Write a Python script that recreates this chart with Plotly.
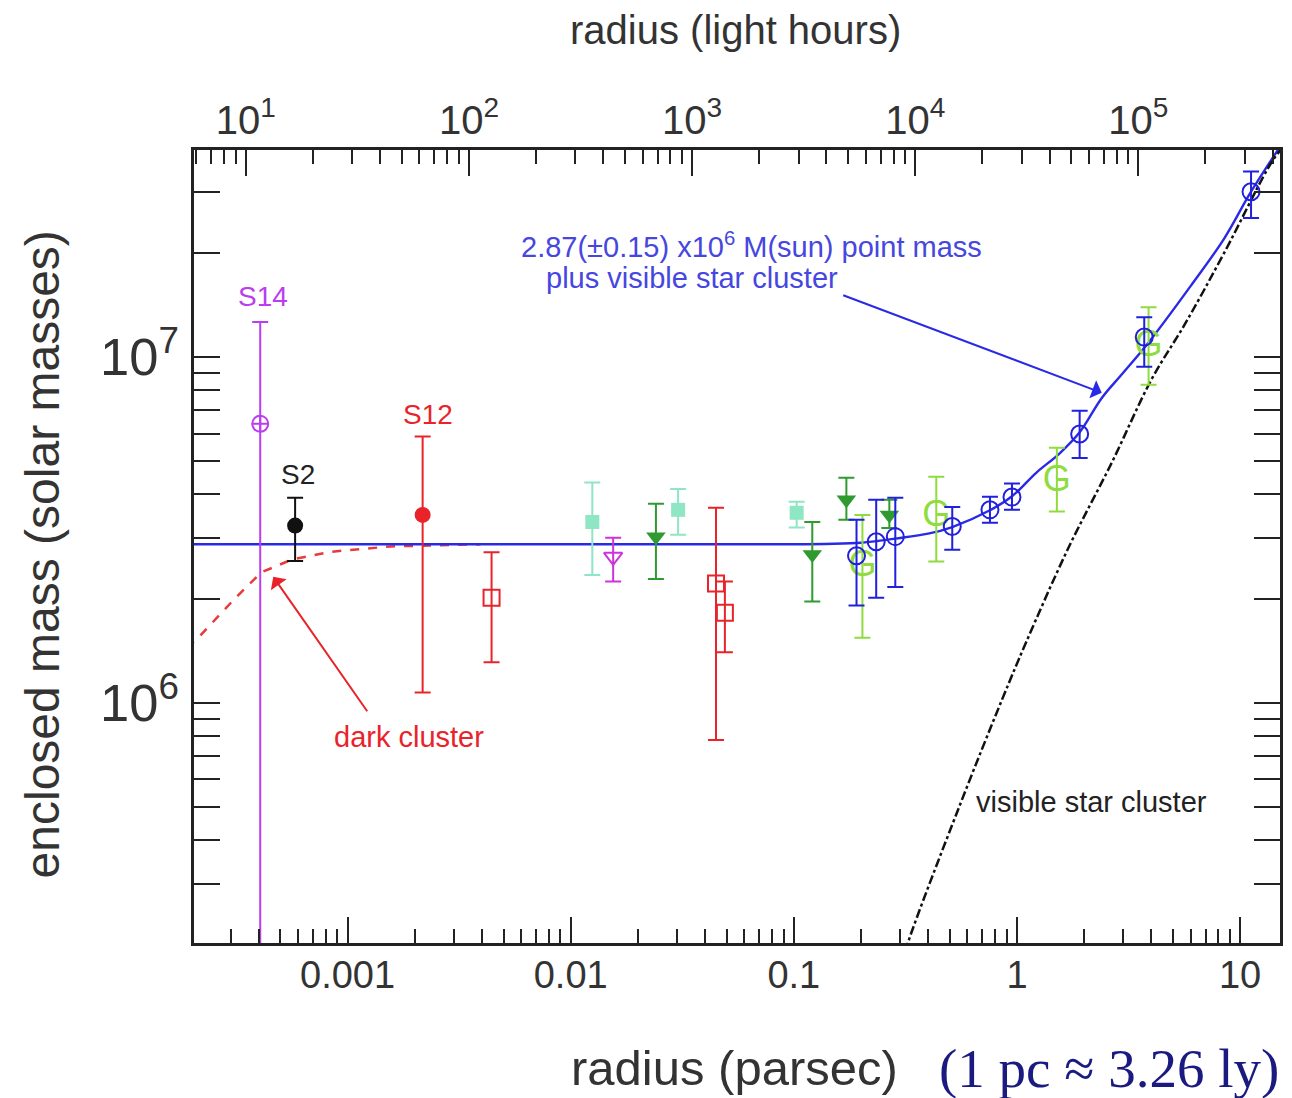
import math
import plotly.graph_objects as go

# ---------------- data (radius in parsec, enclosed mass in solar masses) ----------------
PC_TO_LIGHT_HOURS = 28577.0

# S14 (violet, open circle with cross)
s14_r = [4.06e-4]
s14_m = [6.4e6]
s14_hi = [1.26e7]
s14_lo = [1.0e4]

# S2 (black filled circle)
s2_r = [5.82e-4]
s2_m = [3.25e6]
s2_hi = [3.91e6]
s2_lo = [2.57e6]

# S12 (red filled circle)
s12_r = [2.17e-3]
s12_m = [3.49e6]
s12_hi = [5.88e6]
s12_lo = [1.07e6]

# red open squares
rsq_r = [4.42e-3, 0.0448, 0.0491]
rsq_m = [2.01e6, 2.21e6, 1.82e6]
rsq_hi = [2.72e6, 3.66e6, 2.24e6]
rsq_lo = [1.31e6, 7.8e5, 1.40e6]

# pale teal filled squares
tsq_r = [0.0125, 0.0303, 0.103]
tsq_m = [3.33e6, 3.61e6, 3.54e6]
tsq_hi = [4.33e6, 4.15e6, 3.81e6]
tsq_lo = [2.34e6, 3.06e6, 3.21e6]

# magenta open down-triangle
mtri_r = [0.0155]
mtri_m = [2.64e6]
mtri_hi = [3.0e6]
mtri_lo = [2.24e6]

# dark green filled down-triangles
gtri_r = [0.0241, 0.121, 0.172, 0.268]
gtri_m = [3.02e6, 2.68e6, 3.86e6, 3.49e6]
gtri_hi = [3.76e6, 3.33e6, 4.47e6, 3.86e6]
gtri_lo = [2.28e6, 1.96e6, 3.38e6, 3.2e6]

# light green "G" points
g_r = [0.203, 0.435, 1.51, 3.89]
g_m = [2.47e6, 3.45e6, 4.35e6, 1.07e7]
g_hi = [3.49e6, 4.5e6, 5.46e6, 1.39e7]
g_lo = [1.54e6, 2.56e6, 3.57e6, 8.3e6]

# blue open circles
b_r = [0.191, 0.234, 0.285, 0.513, 0.757, 0.95, 1.91, 3.72, 11.2]
b_m = [2.66e6, 2.92e6, 3.02e6, 3.23e6, 3.61e6, 3.93e6, 5.98e6, 1.14e7, 3.0e7]
b_hi = [3.38e6, 3.86e6, 3.91e6, 3.68e6, 3.94e6, 4.3e6, 6.98e6, 1.30e7, 3.43e7]
b_lo = [1.91e6, 2.01e6, 2.16e6, 2.77e6, 3.31e6, 3.61e6, 5.1e6, 9.35e6, 2.52e7]

# model: point mass + visible cluster (blue solid)
model_r = [1.0e-4, 0.1, 0.15, 0.2, 0.234, 0.285, 0.4, 0.513, 0.757, 0.95, 1.22, 1.55,
           1.91, 2.40, 3.0, 3.89, 6.0, 8.5, 11.2, 15.5]
model_m = [2.87e6, 2.87e6, 2.88e6, 2.9e6, 2.93e6, 2.98e6, 3.08e6, 3.22e6, 3.6e6, 3.95e6, 4.62e6, 5.25e6,
           6.05e6, 7.6e6, 9.0e6, 1.1e7, 1.6e7, 2.2e7, 3.0e7, 4.15e7]

# visible star cluster (black dash-dot)
clu_r = [0.30, 0.326, 0.551, 0.857, 1.097, 1.7, 2.66, 4.01, 5.69, 8.5, 14.07, 16.0]
clu_m = [1.7e5, 2.04e5, 5.0e5, 1.02e6, 1.49e6, 2.8e6, 4.94e6, 8.6e6, 1.25e7, 2.0e7, 3.71e7, 4.1e7]

# dark cluster (red dashed)
dark_r = [1.9e-4, 2.1e-4, 3.1e-4, 4.1e-4, 5.6e-4, 8.4e-4, 1.56e-3, 3.94e-3]
dark_m = [1.45e6, 1.52e6, 1.99e6, 2.38e6, 2.59e6, 2.73e6, 2.83e6, 2.87e6]

# top-axis tick labels (light hours)
lh_ticks = [10, 100, 1000, 10000, 100000]
lh_labels = ["10<sup>1</sup>", "10<sup>2</sup>", "10<sup>3</sup>", "10<sup>4</sup>", "10<sup>5</sup>"]

X_MIN, X_MAX = 2.05e-4, 15.1
Y_MIN, Y_MAX = 2.02e5, 3.96e7

FONT = "Liberation Sans, Arial, sans-serif"

fig = go.Figure()

# lines
fig.add_trace(go.Scatter(x=dark_r, y=dark_m, mode="lines",
                         line=dict(color="#e83a3a", width=2.5, dash="dash"), hoverinfo="skip"))
fig.add_trace(go.Scatter(x=model_r, y=model_m, mode="lines", line_shape="spline",
                         line=dict(color="#2a2ae6", width=2.4), hoverinfo="skip"))
fig.add_trace(go.Scatter(x=clu_r, y=clu_m, mode="lines", line_shape="spline",
                         line=dict(color="#111111", width=2.5, dash="dashdot"), hoverinfo="skip"))


def err(m, hi, lo, color, width=8, thick=2):
    return dict(type="data", symmetric=False,
                array=[h - v for h, v in zip(hi, m)],
                arrayminus=[v - l for v, l in zip(m, lo)],
                color=color, thickness=thick, width=width)


def pts(r, m, hi, lo, color, symbol, size, lw=2, fill=None):
    return go.Scatter(x=r, y=m, mode="markers",
                      marker=dict(symbol=symbol, size=size, color=fill or color,
                                  line=dict(color=color, width=lw)),
                      error_y=err(m, hi, lo, color), hoverinfo="skip")


fig.add_trace(pts(tsq_r, tsq_m, tsq_hi, tsq_lo, "#8fe6c4", "square", 14, lw=0))
fig.add_trace(pts(g_r, g_m, g_hi, g_lo, "#8fdc3e", "circle", 1, lw=0))
fig.add_trace(go.Scatter(x=g_r, y=g_m, mode="text", text=["G"] * len(g_r),
                         textfont=dict(family=FONT, size=36, color="#8fdc3e"),
                         textposition="middle center", hoverinfo="skip"))
fig.add_trace(pts(s14_r, s14_m, s14_hi, s14_lo, "#bb3df0", "circle-cross-open", 16))
fig.add_trace(pts(s2_r, s2_m, s2_hi, s2_lo, "#111111", "circle", 16, lw=0))
fig.add_trace(pts(s12_r, s12_m, s12_hi, s12_lo, "#e8242a", "circle", 16, lw=0))
fig.add_trace(pts(rsq_r, rsq_m, rsq_hi, rsq_lo, "#e8242a", "square-open", 16))
fig.add_trace(pts(mtri_r, mtri_m, mtri_hi, mtri_lo, "#cc33dd", "triangle-down-open", 16))
fig.add_trace(pts(gtri_r, gtri_m, gtri_hi, gtri_lo, "#2f9a2f", "triangle-down", 17, lw=0))
fig.add_trace(pts(b_r, b_m, b_hi, b_lo, "#2020dd", "circle-open", 17))

# invisible trace that carries the top (light hours) axis
fig.add_trace(go.Scatter(x=lh_ticks, y=[None] * len(lh_ticks), xaxis="x2", mode="markers",
                         marker=dict(opacity=0), hoverinfo="skip", showlegend=False))

axis_common = dict(showgrid=False, zeroline=False, showline=True, linecolor="#222",
                   linewidth=2.5, ticks="inside", ticklen=26, tickwidth=2, tickcolor="#222",
                   minor=dict(ticks="inside", ticklen=14, tickwidth=2, tickcolor="#222", dtick="D1"))

# the page adds an 8px body margin, so the figure is 8px smaller and the margins are shifted
fig.update_layout(
    width=1284, height=1090,
    margin=dict(l=186, r=9, t=142, b=155),
    paper_bgcolor="white", plot_bgcolor="white",
    showlegend=False,
    font=dict(family=FONT, color="#222"),
    xaxis=dict(type="log", range=[math.log10(X_MIN), math.log10(X_MAX)], dtick=1,
               exponentformat="none", tickfont=dict(size=38, color="#333"),
               ticklabelstandoff=-3, **axis_common),
    xaxis2=dict(type="log", overlaying="x", side="top", anchor="y",
                range=[math.log10(X_MIN * PC_TO_LIGHT_HOURS), math.log10(X_MAX * PC_TO_LIGHT_HOURS)],
                tickmode="array", tickvals=lh_ticks, ticktext=lh_labels,
                tickfont=dict(size=40, color="#333"),
                ticklabelstandoff=-3, **axis_common),
    yaxis=dict(type="log", range=[math.log10(Y_MIN), math.log10(Y_MAX)], dtick=1,
               exponentformat="power", tickfont=dict(size=42, color="#333"),
               mirror="allticks", ticklabelstandoff=4, **axis_common),
)

C = dict(xanchor="center", yanchor="middle", showarrow=False)
annotations = [
    # axis titles
    dict(text="enclosed mass (solar masses)", xref="paper", yref="paper", x=-0.140, y=0.49,
         textangle=-90, font=dict(size=48, color="#333"), **C),
    dict(text="radius (light hours)", xref="paper", yref="paper", x=0.499, y=1.151,
         font=dict(size=40, color="#333"), **C),
    dict(text="radius (parsec)", xref="paper", yref="paper", x=0.498, y=-0.158,
         font=dict(size=49, color="#333"), **C),
    dict(text="(1 pc ≈ 3.26 ly)", xref="paper", yref="paper", x=0.843, y=-0.158,
         font=dict(size=55, color="#1a1a80",
                   family="Liberation Serif, Times New Roman, serif"), **C),
    # labels
    dict(text="S14", x=-3.378, y=7.173, font=dict(size=28, color="#bb3df0"), **C),
    dict(text="S2", x=-3.222, y=6.659, font=dict(size=28, color="#222"), **C),
    dict(text="S12", x=-2.641, y=6.832, font=dict(size=28, color="#e8242a"), **C),
    dict(text="dark cluster", x=-2.726, y=5.902, font=dict(size=29, color="#e8242a"), **C),
    dict(text="visible star cluster", x=0.335, y=5.714, font=dict(size=29, color="#222"), **C),
    dict(text="2.87(±0.15) x10<sup>6</sup> M(sun) point mass", x=-1.189, y=7.324,
         font=dict(size=29, color="#4646e0"), **C),
    dict(text="plus visible star cluster", x=-1.457, y=7.228,
         font=dict(size=29, color="#4646e0"), **C),
    # arrows
    dict(text="", x=-3.333, y=6.364, ax=95, ay=136, showarrow=True, arrowhead=1,
         arrowsize=1.6, arrowwidth=2, arrowcolor="#e8242a"),
    dict(text="", x=0.380, y=6.896, ax=-260, ay=-98, showarrow=True, arrowhead=1,
         arrowsize=1.6, arrowwidth=2, arrowcolor="#2a2ae6"),
]
for a in annotations:
    if "xref" not in a:
        a["xref"] = "x"
        a["yref"] = "y"
fig.update_layout(annotations=annotations)

fig.write_html("out.html")
